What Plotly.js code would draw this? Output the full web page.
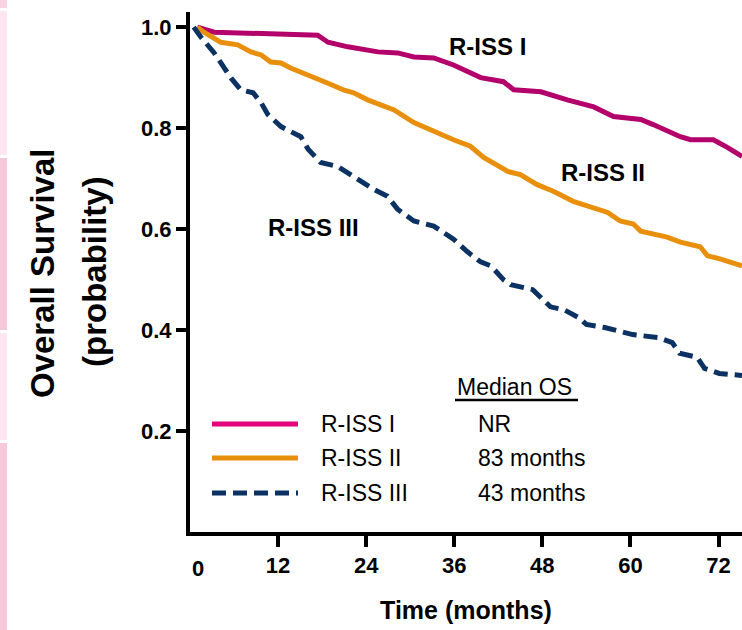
<!DOCTYPE html>
<html>
<head>
<meta charset="utf-8">
<script src="https://cdn.plot.ly/plotly-3.0.1.min.js"></script>
<style>html,body{margin:0;padding:0;background:#fff;}#chart{width:742px;height:630px;}</style>
</head>
<body>
<div id="chart"></div>
<script>
// Time in months and survival probability
const monthsI = [1.0, 3.3, 17.4, 18.8, 21.5, 25.6, 28.3, 30.5, 33.2, 35.9, 39.6, 42.7, 44.1, 47.8, 51.4, 55.0, 57.7, 61.4, 63.1, 66.8, 68.2, 71.3, 73.2, 75.2];
const survI   = [1.0, 0.99, 0.984, 0.970, 0.961, 0.951, 0.949, 0.941, 0.939, 0.925, 0.900, 0.892, 0.876, 0.872, 0.856, 0.842, 0.823, 0.817, 0.807, 0.783, 0.777, 0.777, 0.762, 0.744];

const monthsII = [1.0, 1.9, 4.2, 6.5, 8.3, 9.7, 11.0, 12.4, 13.7, 16.9, 18.8, 21.0, 22.3, 24.2, 27.8, 30.5, 33.2, 35.9, 38.2, 40.0, 43.3, 45.0, 47.3, 49.5, 52.2, 56.9, 58.6, 60.4, 61.4, 65.0, 66.8, 69.5, 70.5, 72.2, 75.2];
const survII   = [1.0, 0.99, 0.970, 0.965, 0.951, 0.945, 0.931, 0.929, 0.919, 0.901, 0.889, 0.875, 0.870, 0.856, 0.836, 0.811, 0.793, 0.777, 0.764, 0.742, 0.714, 0.708, 0.688, 0.675, 0.655, 0.633, 0.616, 0.610, 0.596, 0.584, 0.574, 0.565, 0.547, 0.541, 0.527];

const monthsIII = [0.5, 1.5, 3.3, 4.6, 5.6, 6.9, 8.6, 9.7, 10.6, 12.4, 15.1, 16.1, 17.8, 20.1, 22.9, 25.0, 26.9, 28.3, 30.5, 33.2, 35.9, 37.8, 39.6, 41.0, 42.7, 43.7, 46.7, 49.1, 51.0, 52.9, 54.0, 56.5, 60.3, 63.8, 65.7, 66.7, 69.1, 70.1, 72.1, 75.2];
const survIII   = [1.0, 0.980, 0.949, 0.921, 0.899, 0.876, 0.870, 0.850, 0.827, 0.803, 0.783, 0.758, 0.732, 0.724, 0.698, 0.679, 0.665, 0.639, 0.616, 0.606, 0.580, 0.555, 0.535, 0.527, 0.500, 0.490, 0.480, 0.446, 0.440, 0.425, 0.411, 0.405, 0.391, 0.385, 0.375, 0.354, 0.346, 0.324, 0.314, 0.310];

const seriesNames = ['R-ISS I', 'R-ISS II', 'R-ISS III'];
const medianOS = ['NR', '83 months', '43 months'];
const xTickVals = [12, 24, 36, 48, 60, 72];
const xTickText = ['12', '24', '36', '48', '60', '72'];
const yTickVals = [0.2, 0.4, 0.6, 0.8, 1.0];
const yTickText = ['0.2', '0.4', '0.6', '0.8', '1.0'];

const curveColors = ['#b3006b', '#e8900c', '#0b3262'];
const legendColors = ['#e6007e', '#e8900c', '#0b3262'];
const FONT = 'Arial, "Liberation Sans", sans-serif';

const traces = [
  {x: monthsI, y: survI, name: seriesNames[0], mode: 'lines', line: {color: curveColors[0], width: 5}},
  {x: monthsII, y: survII, name: seriesNames[1], mode: 'lines', line: {color: curveColors[1], width: 5}},
  {x: monthsIII, y: survIII, name: seriesNames[2], mode: 'lines', line: {color: curveColors[2], width: 5, dash: '14px,7px'}}
];

// pixel -> paper helpers (plot area: x 190..742, y 12..532)
const px = v => (v - 190) / 552;
const py = v => (532 - v) / 520;

const shapes = [];
// pink stripes at the left edge
[[0, 8, '#f9d3e1'], [11, 155, '#fde6ef'], [158, 330, '#f7c8d9'], [333, 440, '#fde6ef'], [443, 630, '#f7c8d9']].forEach(s => {
  shapes.push({type: 'rect', xref: 'paper', yref: 'paper', x0: px(0), x1: px(7), y0: py(s[0]), y1: py(s[1]), line: {width: 0}, fillcolor: s[2], layer: 'below'});
});
// legend lines
const legY = [424, 458, 493];
legY.forEach((yy, i) => {
  shapes.push({type: 'line', xref: 'paper', yref: 'paper', x0: px(212), x1: px(298), y0: py(yy), y1: py(yy),
    line: {color: legendColors[i], width: 5, dash: i === 2 ? '14px,7px' : 'solid'}});
});
// underline under "Median OS"
shapes.push({type: 'line', xref: 'paper', yref: 'paper', x0: px(455), x1: px(578), y0: py(400), y1: py(400), line: {color: '#000', width: 2.5}});

const annotations = [
  {text: 'R-ISS I', x: 40.5, y: 0.961, xref: 'x', yref: 'y', xanchor: 'center', yanchor: 'middle', showarrow: false, font: {family: FONT, size: 24, weight: 'bold', color: '#000'}},
  {text: 'R-ISS II', x: 56.3, y: 0.713, xref: 'x', yref: 'y', xanchor: 'center', yanchor: 'middle', showarrow: false, font: {family: FONT, size: 24, weight: 'bold', color: '#000'}},
  {text: 'R-ISS III', x: 16.8, y: 0.604, xref: 'x', yref: 'y', xanchor: 'center', yanchor: 'middle', showarrow: false, font: {family: FONT, size: 24, weight: 'bold', color: '#000'}},
  {text: 'Median OS', x: px(455), y: py(387), xref: 'paper', yref: 'paper', xanchor: 'left', yanchor: 'middle', showarrow: false, font: {family: FONT, size: 23, color: '#000'}},
  {text: 'Overall Survival', x: px(42), y: py(274), xref: 'paper', yref: 'paper', xanchor: 'center', yanchor: 'middle', textangle: -90, showarrow: false, font: {family: FONT, size: 33, weight: 'bold', color: '#000'}},
  {text: '(probability)', x: px(94), y: py(272), xref: 'paper', yref: 'paper', xanchor: 'center', yanchor: 'middle', textangle: -90, showarrow: false, font: {family: FONT, size: 33, weight: 'bold', color: '#000'}},
  {text: '0', x: px(198), y: py(568), xref: 'paper', yref: 'paper', xanchor: 'center', yanchor: 'middle', showarrow: false, font: {family: FONT, size: 22, weight: 'bold', color: '#000'}}
];
legY.forEach((yy, i) => {
  annotations.push({text: seriesNames[i], x: px(319), y: py(yy), xref: 'paper', yref: 'paper', xanchor: 'left', yanchor: 'middle', showarrow: false, font: {family: FONT, size: 23, color: '#000'}});
  annotations.push({text: medianOS[i], x: px(476), y: py(yy), xref: 'paper', yref: 'paper', xanchor: 'left', yanchor: 'middle', showarrow: false, font: {family: FONT, size: 23, color: '#000'}});
});

const layout = {
  width: 742, height: 630,
  margin: {l: 190, r: 0, t: 12, b: 98, pad: 0},
  paper_bgcolor: '#fff', plot_bgcolor: '#fff',
  showlegend: false,
  font: {family: FONT, color: '#000'},
  xaxis: {
    range: [0, 75.2], showgrid: false, zeroline: false,
    showline: true, linecolor: '#000', linewidth: 4,
    ticks: 'outside', ticklen: 11, tickwidth: 4, tickcolor: '#000',
    tickvals: xTickVals, ticktext: xTickText,
    tickfont: {family: FONT, size: 22, weight: 'bold', color: '#000'},
    title: {text: 'Time (months)', font: {family: FONT, size: 25, weight: 'bold', color: '#000'}, standoff: 25}
  },
  yaxis: {
    range: [0, 1.03], showgrid: false, zeroline: false,
    showline: true, linecolor: '#000', linewidth: 4,
    ticks: 'outside', ticklen: 10, tickwidth: 4, tickcolor: '#000',
    tickvals: yTickVals, ticktext: yTickText,
    tickfont: {family: FONT, size: 22, weight: 'bold', color: '#000'}
  },
  shapes: shapes,
  annotations: annotations
};

Plotly.newPlot('chart', traces, layout, {staticPlot: true, displayModeBar: false});
</script>
</body>
</html>
